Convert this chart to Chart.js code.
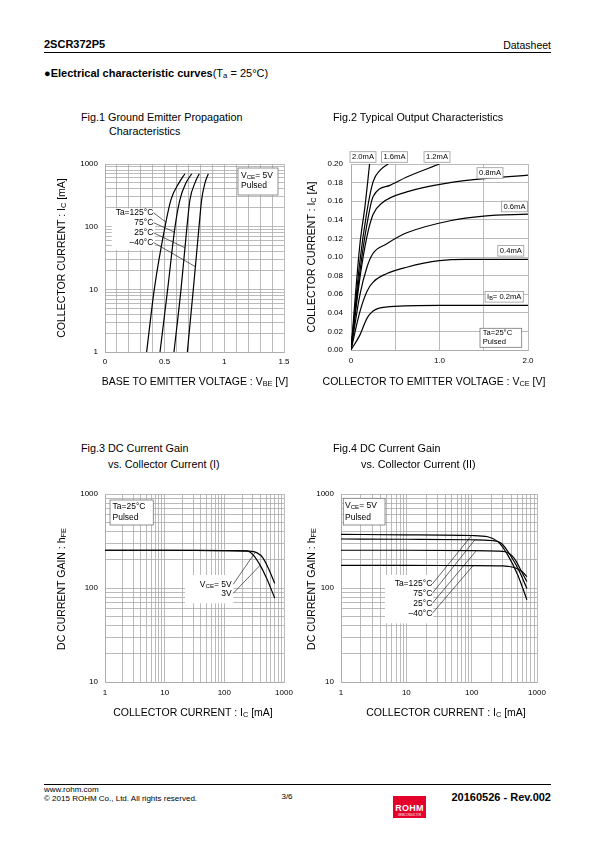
<!DOCTYPE html>
<html>
<head>
<meta charset="utf-8">
<title>2SCR372P5 - Electrical characteristic curves</title>
<script src="https://cdn.jsdelivr.net/npm/chart.js@4.4.1/dist/chart.umd.min.js"></script>
<style>
  html, body { margin: 0; padding: 0; background: #fff; }
  #page { position: relative; width: 595px; height: 842px; overflow: hidden;
          font-family: "Liberation Sans", Arial, sans-serif; color: #000; }
  #page canvas { position: absolute; }
  .t  { position: absolute; white-space: nowrap; line-height: 1; transform: translateY(-50%); z-index: 2; }
  .r  { transform: translate(-100%, -50%); }
  .c  { transform: translate(-50%, -50%); }
  .v  { transform: translate(-50%, -50%) rotate(-90deg); }
  .ax { font-size: 10.5px; }
  .fig { font-size: 10.8px; }
  .hr { position: absolute; height: 1px; background: #000; }
  sub { font-size: 70%; vertical-align: -0.2em; line-height: 0; }
  #logo { position: absolute; left: 393px; top: 796px; width: 33px; height: 22px; background: #e4002b; color: #fff; text-align: center; }
</style>
</head>
<body>
<div id="page">
  <!-- header -->
  <div class="t" style="left:44px;top:44px;font-size:11px;font-weight:bold">2SCR372P5</div>
  <div class="t r" style="left:551px;top:45px;font-size:10.5px">Datasheet</div>
  <div class="hr" style="left:44px;top:52px;width:507px"></div>
  <div class="t" style="left:44px;top:73px;font-size:11px"><b>●Electrical characteristic curves</b>(T<sub>a</sub> = 25°C)</div>

  <!-- figure titles -->
  <div class="t fig" style="left:81px;top:117px">Fig.1 Ground Emitter Propagation</div>
  <div class="t fig" style="left:109px;top:131px">Characteristics</div>
  <div class="t fig" style="left:333px;top:117px">Fig.2 Typical Output Characteristics</div>
  <div class="t fig" style="left:81px;top:448px">Fig.3 DC Current Gain</div>
  <div class="t fig" style="left:108px;top:464px">vs. Collector Current (I)</div>
  <div class="t fig" style="left:333px;top:448px">Fig.4 DC Current Gain</div>
  <div class="t fig" style="left:361px;top:464px">vs. Collector Current (II)</div>

  <!-- axis titles -->
  <div class="t c ax" style="left:195px;top:381px">BASE TO EMITTER VOLTAGE : V<sub>BE</sub> [V]</div>
  <div class="t v ax" style="left:61px;top:258px">COLLECTOR CURRENT : I<sub>C</sub> [mA]</div>
  <div class="t c ax" style="left:434px;top:381px">COLLECTOR TO EMITTER VOLTAGE : V<sub>CE</sub> [V]</div>
  <div class="t v ax" style="left:311px;top:257px">COLLECTOR CURRENT : I<sub>C</sub> [A]</div>
  <div class="t c ax" style="left:193px;top:712px">COLLECTOR CURRENT : I<sub>C</sub> [mA]</div>
  <div class="t v ax" style="left:61px;top:589px">DC CURRENT GAIN : h<sub>FE</sub></div>
  <div class="t c ax" style="left:446px;top:712px">COLLECTOR CURRENT : I<sub>C</sub> [mA]</div>
  <div class="t v ax" style="left:311px;top:589px">DC CURRENT GAIN : h<sub>FE</sub></div>

  <!-- footer -->
  <div class="hr" style="left:44px;top:784px;width:507px"></div>
  <div class="t" style="left:44px;top:790px;font-size:8px">www.rohm.com</div>
  <div class="t" style="left:44px;top:799px;font-size:8px">© 2015 ROHM Co., Ltd. All rights reserved.</div>
  <div class="t c" style="left:287px;top:797px;font-size:8px">3/6</div>
  <div id="logo">
    <div style="font:bold 9px 'Liberation Sans',Arial,sans-serif;margin-top:7px;letter-spacing:0.3px">ROHM</div>
    <div style="font:2.6px 'Liberation Sans',Arial,sans-serif;margin-top:1px">SEMICONDUCTOR</div>
  </div>
  <div class="t r" style="left:551px;top:797px;font-size:11px;font-weight:bold">20160526 - Rev.002</div>
</div>

<script>
// ── DATA ────────────────────────────────────────────────────
// Fig.1  Ic [mA] vs VBE [V], VCE = 5V
const fig1Ic     = [1, 10, 100, 270, 500, 700];
const fig1Vbe125 = [0.349, 0.413, 0.503, 0.553, 0.620, 0.670];
const fig1Vbe75  = [0.461, 0.525, 0.587, 0.628, 0.679, 0.727];
const fig1Vbe25  = [0.578, 0.637, 0.687, 0.712, 0.754, 0.790];
const fig1VbeM40 = [0.690, 0.740, 0.788, 0.810, 0.838, 0.866];

// Fig.2  Ic [A] vs VCE [V] for IB steps
const fig2Vce02 = [0, 0.10, 0.18, 0.25, 0.44, 1.0, 2.0];
const fig2Ic02  = [0, 0.016, 0.034, 0.042, 0.0466, 0.048, 0.048];
const fig2Vce04 = [0, 0.10, 0.18, 0.25, 0.40, 0.63, 1.0, 1.3, 2.0];
const fig2Ic04  = [0, 0.041, 0.063, 0.073, 0.082, 0.089, 0.096, 0.0975, 0.0975];
const fig2Vce06 = [0, 0.10, 0.18, 0.25, 0.40, 0.63, 1.12, 1.5, 2.0];
const fig2Ic06  = [0, 0.059, 0.089, 0.104, 0.114, 0.126, 0.139, 0.144, 0.146];
const fig2Vce08 = [0, 0.10, 0.18, 0.25, 0.35, 0.63, 1.12, 1.6, 2.0];
const fig2Ic08  = [0, 0.077, 0.122, 0.146, 0.158, 0.170, 0.180, 0.185, 0.188];
const fig2Vce12 = [0, 0.10, 0.18, 0.25, 0.44, 0.63, 1.0];
const fig2Ic12  = [0, 0.084, 0.135, 0.165, 0.177, 0.186, 0.200];
const fig2Vce16 = [0, 0.10, 0.18, 0.25, 0.33, 0.42];
const fig2Ic16  = [0, 0.095, 0.149, 0.181, 0.1935, 0.200];
const fig2Vce20 = [0, 0.10, 0.16, 0.21];
const fig2Ic20  = [0, 0.113, 0.156, 0.200];

// Fig.3  hFE vs Ic [mA], Ta = 25C
const fig3Ic5  = [1, 10, 100, 250, 349, 449, 580, 700];
const fig3Hfe5 = [252, 252, 250, 247, 238, 207, 149, 112];
const fig3Ic3  = [1, 10, 100, 236, 306, 395, 511, 700];
const fig3Hfe3 = [252, 252, 250, 248, 224, 176, 127, 78];

// Fig.4  hFE vs Ic [mA], VCE = 5V
const fig4Ic125   = [1, 10, 100, 177, 252, 358, 509, 700];
const fig4Hfe125  = [372, 368, 362, 351, 311, 224, 137, 75];
const fig4Ic75    = [1, 10, 100, 200, 284, 404, 541, 700];
const fig4Hfe75   = [332, 330, 326, 320, 299, 215, 149, 99];
const fig4Ic25    = [1, 10, 100, 250, 326, 449, 580, 700];
const fig4Hfe25   = [252, 252, 250, 247, 243, 207, 150, 117];
const fig4IcM40   = [1, 10, 100, 300, 358, 481, 607, 700];
const fig4HfeM40  = [174, 174, 173, 172, 170, 162, 147, 132];

// ── STYLE / LAYOUT ──────────────────────────────────────────
const FONT = '"Liberation Sans", Arial, sans-serif';
const GRID = '#a9a9a9';
const PAD = { l: 60, r: 16, t: 16, b: 30 };

// ── HELPERS ─────────────────────────────────────────────────
function logTicks(min, max) {
  const out = [];
  for (let e = Math.floor(Math.log10(min)); Math.pow(10, e) <= max; e++)
    for (let m = 1; m < 10; m++) {
      const v = m * Math.pow(10, e);
      if (v >= min && v <= max) out.push(v);
    }
  return out;
}
function linTicks(min, max, step) {
  const n = Math.round((max - min) / step), out = [];
  for (let i = 0; i <= n; i++) out.push(Math.round((min + i * step) * 1e6) / 1e6);
  return out;
}
function logLabel(v) {
  const l = Math.log10(v);
  return Math.abs(l - Math.round(l)) < 1e-6 ? String(Math.round(v)) : '';
}
function tickFont(pad) {
  return { autoSkip: false, maxRotation: 0, padding: pad, color: '#000', font: { size: 8, family: FONT } };
}
function logAxis(min, max, pad) {
  return {
    type: 'logarithmic', min, max,
    afterBuildTicks: s => { s.ticks = logTicks(min, max).map(value => ({ value })); },
    ticks: { ...tickFont(pad), callback: logLabel },
    grid: { color: GRID, lineWidth: 0.8, drawTicks: false },
    border: { color: GRID, width: 0.8 },
  };
}
function linAxis(min, max, step, pad, fmt) {
  return {
    type: 'linear', min, max,
    afterBuildTicks: s => { s.ticks = linTicks(min, max, step).map(value => ({ value })); },
    ticks: { ...tickFont(pad), callback: fmt },
    grid: { color: GRID, lineWidth: 0.8, drawTicks: false },
    border: { color: GRID, width: 0.8 },
  };
}
function curve(xs, ys) {
  return {
    data: xs.map((x, i) => ({ x, y: ys[i] })),
    showLine: true, pointRadius: 0, borderColor: '#000', borderWidth: 1.2,
    cubicInterpolationMode: 'monotone', fill: false,
  };
}

// ── ANNOTATIONS (boxes/texts in px from plot corner, leaders in data units) ──
const NOTES = {
  fig1: {
    size: 8.5,
    boxes: [{ x: 6.7, y: 44.3, w: 43.3, h: 41.7 }, { x: 133, y: 4, w: 40, h: 27, border: '#777' }],
    texts: [
      { x: 48.3, y: 48.7, s: 'Ta=125°C', a: 'right' }, { x: 48.3, y: 58.7, s: '75°C', a: 'right' },
      { x: 48.3, y: 68.7, s: '25°C', a: 'right' }, { x: 48.3, y: 78.3, s: '–40°C', a: 'right' },
      { x: 136, y: 11.5, s: 'V_{CE}= 5V' }, { x: 136, y: 21.5, s: 'Pulsed' },
    ],
    leaders: [[0.406, 167, 0.511, 118], [0.406, 116, 0.582, 82], [0.406, 80, 0.670, 46], [0.406, 56, 0.757, 23]],
  },
  fig2: {
    size: 7.6,
    boxes: [{ x: 129, y: 164.3, w: 41.7, h: 19, border: '#777' }],
    tags: [
      { x: 12, y: -7, s: '2.0mA' }, { x: 43.5, y: -7, s: '1.6mA' }, { x: 86, y: -7, s: '1.2mA' },
      { x: 139, y: 9, s: '0.8mA' }, { x: 163.5, y: 42.5, s: '0.6mA' }, { x: 159.8, y: 86.8, s: '0.4mA' },
      { x: 153.2, y: 132.8, s: 'I_{B}= 0.2mA' },
    ],
    texts: [{ x: 131.7, y: 169, s: 'Ta=25°C' }, { x: 131.7, y: 178, s: 'Pulsed' }],
    leaders: [],
  },
  fig3: {
    size: 8.5,
    boxes: [{ x: 5, y: 6, w: 43.3, h: 25, border: '#777' }, { x: 80, y: 81, w: 48.3, h: 28.3 }],
    texts: [
      { x: 7.5, y: 12.7, s: 'Ta=25°C' }, { x: 7.5, y: 23.3, s: 'Pulsed' },
      { x: 126.7, y: 90.3, s: 'V_{CE}= 5V', a: 'right' }, { x: 126.7, y: 99.3, s: '3V', a: 'right' },
    ],
    leaders: [[141, 109.6, 330, 240], [141, 87.9, 400, 175]],
  },
  fig4: {
    size: 8.5,
    boxes: [{ x: 2.3, y: 4.3, w: 41.7, h: 26.7, border: '#777' }, { x: 44, y: 81, w: 48.3, h: 48.3 }],
    texts: [
      { x: 4, y: 11.7, s: 'V_{CE}= 5V' }, { x: 4, y: 23.3, s: 'Pulsed' },
      { x: 91.3, y: 90, s: 'Ta=125°C', a: 'right' }, { x: 91.3, y: 99.3, s: '75°C', a: 'right' },
      { x: 91.3, y: 109.3, s: '25°C', a: 'right' }, { x: 91.3, y: 119.3, s: '–40°C', a: 'right' },
    ],
    leaders: [[25, 110.3, 100, 362], [25, 87.8, 112, 326], [25, 68.7, 118, 250], [25, 53.8, 105, 173]],
  },
};

function richSegs(str) {
  const segs = [], re = /_\{([^}]*)\}/g;
  let last = 0, m;
  while ((m = re.exec(str))) {
    if (m.index > last) segs.push({ t: str.slice(last, m.index) });
    segs.push({ t: m[1], sub: true });
    last = re.lastIndex;
  }
  if (last < str.length) segs.push({ t: str.slice(last) });
  return segs;
}
function drawRich(ctx, str, x, y, size, align) {
  const segs = richSegs(str);
  const fontOf = s => `${s.sub ? size * 0.72 : size}px ${FONT}`;
  let w = 0;
  segs.forEach(s => { ctx.font = fontOf(s); s.w = ctx.measureText(s.t).width; w += s.w; });
  let cx = align === 'right' ? x - w : align === 'center' ? x - w / 2 : x;
  segs.forEach(s => { ctx.font = fontOf(s); ctx.fillText(s.t, cx, s.sub ? y + size * 0.22 : y); cx += s.w; });
  return w;
}

const notesPlugin = {
  id: 'notes',
  afterDatasetsDraw(chart) {
    const n = NOTES[chart.canvas.id];
    if (!n) return;
    const { ctx, chartArea: a, scales: { x: sx, y: sy } } = chart;
    ctx.save();
    ctx.textBaseline = 'middle';
    n.boxes.forEach(b => {
      ctx.fillStyle = '#fff';
      ctx.fillRect(a.left + b.x, a.top + b.y, b.w, b.h);
      if (b.border) {
        ctx.strokeStyle = b.border; ctx.lineWidth = 0.8;
        ctx.strokeRect(a.left + b.x, a.top + b.y, b.w, b.h);
      }
    });
    ctx.strokeStyle = '#000'; ctx.lineWidth = 0.6;
    n.leaders.forEach(([x1, y1, x2, y2]) => {
      ctx.beginPath();
      ctx.moveTo(sx.getPixelForValue(x1), sy.getPixelForValue(y1));
      ctx.lineTo(sx.getPixelForValue(x2), sy.getPixelForValue(y2));
      ctx.stroke();
    });
    ctx.fillStyle = '#000';
    (n.tags || []).forEach(t => {
      // measure first, then box, then text
      ctx.save(); ctx.globalAlpha = 0;
      const w = drawRich(ctx, t.s, 0, 0, n.size, 'left');
      ctx.restore();
      const bx = a.left + t.x - w / 2 - 2, by = a.top + t.y - n.size / 2 - 1.5;
      ctx.fillStyle = '#fff'; ctx.fillRect(bx, by, w + 4, n.size + 3);
      ctx.strokeStyle = '#999'; ctx.lineWidth = 0.8; ctx.strokeRect(bx, by, w + 4, n.size + 3);
      ctx.fillStyle = '#000';
      drawRich(ctx, t.s, a.left + t.x, a.top + t.y, n.size, 'center');
    });
    n.texts.forEach(t => drawRich(ctx, t.s, a.left + t.x, a.top + t.y, n.size, t.a || 'left'));
    ctx.restore();
  },
};

// ── CHART FACTORY ───────────────────────────────────────────
function makeChart(id, plot, datasets, scales) {
  const W = plot.r - plot.l + PAD.l + PAD.r, H = plot.b - plot.t + PAD.t + PAD.b;
  const cv = document.createElement('canvas');
  cv.id = id; cv.width = W; cv.height = H;
  Object.assign(cv.style, { left: (plot.l - PAD.l) + 'px', top: (plot.t - PAD.t) + 'px', width: W + 'px', height: H + 'px' });
  document.getElementById('page').appendChild(cv);
  scales.x.afterFit = s => { s.height = PAD.b; };
  scales.y.afterFit = s => { s.width = PAD.l; };
  return new Chart(cv, {
    type: 'scatter',
    data: { datasets },
    options: {
      responsive: false, animation: false, devicePixelRatio: 1,
      layout: { padding: { left: 0, right: PAD.r, top: PAD.t, bottom: 0 } },
      plugins: { legend: { display: false }, tooltip: { enabled: false } },
      scales,
    },
    plugins: [notesPlugin],
  });
}

const oneDec = v => (Math.abs(v * 2 - Math.round(v * 2)) < 1e-6 ? String(Math.round(v * 10) / 10) : '');

makeChart('fig1', { l: 105, r: 284, t: 164, b: 352 },
  [curve(fig1Vbe125, fig1Ic), curve(fig1Vbe75, fig1Ic), curve(fig1Vbe25, fig1Ic), curve(fig1VbeM40, fig1Ic)],
  { x: linAxis(0, 1.5, 0.1, 5, oneDec), y: logAxis(1, 1000, 7) });

makeChart('fig2', { l: 351, r: 528, t: 164, b: 350 },
  [curve(fig2Vce02, fig2Ic02), curve(fig2Vce04, fig2Ic04), curve(fig2Vce06, fig2Ic06), curve(fig2Vce08, fig2Ic08),
   curve(fig2Vce12, fig2Ic12), curve(fig2Vce16, fig2Ic16), curve(fig2Vce20, fig2Ic20)],
  { x: linAxis(0, 2, 0.5, 6, v => (v === 0 ? '0' : Number.isInteger(v) ? v.toFixed(1) : '')),
    y: linAxis(0, 0.2, 0.02, 8, v => v.toFixed(2)) });

makeChart('fig3', { l: 105, r: 284, t: 494, b: 682 },
  [curve(fig3Ic5, fig3Hfe5), curve(fig3Ic3, fig3Hfe3)],
  { x: logAxis(1, 1000, 6), y: logAxis(10, 1000, 7) });

makeChart('fig4', { l: 341, r: 537, t: 494, b: 682 },
  [curve(fig4Ic125, fig4Hfe125), curve(fig4Ic75, fig4Hfe75), curve(fig4Ic25, fig4Hfe25), curve(fig4IcM40, fig4HfeM40)],
  { x: logAxis(1, 1000, 6), y: logAxis(10, 1000, 7) });
</script>
</body>
</html>
